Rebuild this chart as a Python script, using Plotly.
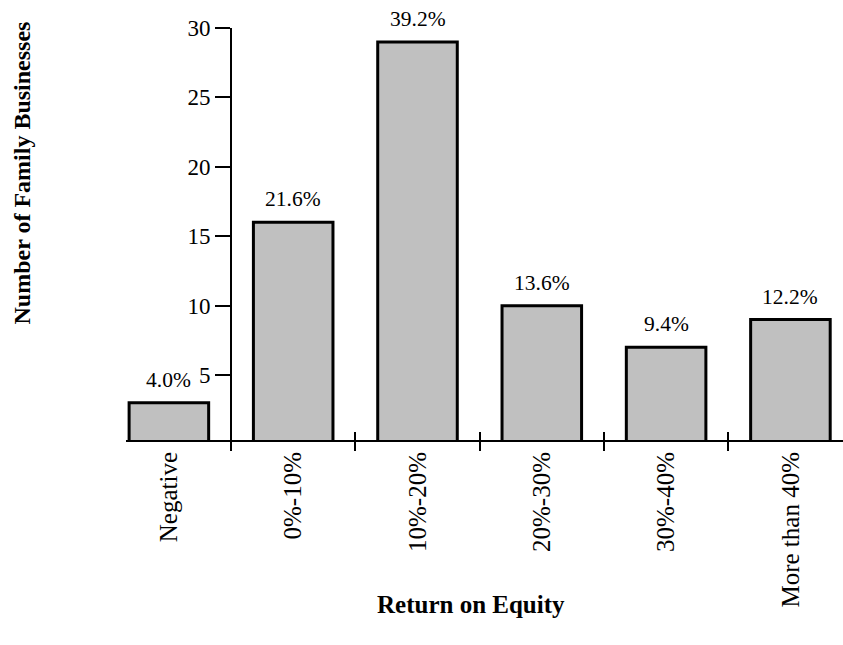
import plotly.graph_objects as go

# Return-on-equity bands and the number of family businesses in each
categories = ["Negative", "0%-10%", "10%-20%", "20%-30%", "30%-40%", "More than 40%"]
counts = [3, 16, 29, 10, 7, 9]
shares = [4.0, 21.6, 39.2, 13.6, 9.4, 12.2]
y_ticks = [5, 10, 15, 20, 25, 30]

serif = "Liberation Serif, Times New Roman, serif"
x_range = [-0.345, 5.423]
y_axis_pos = (0.5 - x_range[0]) / (x_range[1] - x_range[0])

fig = go.Figure()
fig.add_trace(go.Bar(
    x=categories,
    y=counts,
    width=0.64,
    marker=dict(color="#c0c0c0", line=dict(color="black", width=3)),
    showlegend=False,
    hoverinfo="skip",
))
# empty trace that keeps the secondary (tick-only) x axis alive
fig.add_trace(go.Scatter(x=[], y=[], xaxis="x2", yaxis="y",
                         showlegend=False, hoverinfo="skip"))

# percentage share printed above each bar
share_labels = [
    dict(
        x=cat, y=n, xref="x", yref="y",
        text=f"{s:.1f}%",
        xanchor="center", yanchor="bottom",
        yshift=9,
        showarrow=False,
        font=dict(family=serif, size=21.5, color="black"),
    )
    for cat, n, s in zip(categories, counts, shares)
]

fig.update_layout(
    width=843,
    height=645,
    margin=dict(l=126, r=0, t=28, b=205),
    paper_bgcolor="white",
    plot_bgcolor="white",
    font=dict(family=serif, color="black"),
    xaxis=dict(
        type="category",
        range=x_range,
        showline=True,
        linecolor="black",
        linewidth=2,
        ticks="outside",
        tickson="boundaries",
        ticklen=9,
        tickwidth=2,
        tickcolor="black",
        tickangle=-90,
        tickfont=dict(family=serif, size=25, color="black"),
        showgrid=False,
        zeroline=False,
    ),
    xaxis2=dict(
        type="category",
        overlaying="x",
        anchor="y",
        range=x_range,
        categoryarray=categories,
        categoryorder="array",
        ticks="inside",
        tickson="boundaries",
        ticklen=8,
        tickwidth=2,
        tickcolor="black",
        showticklabels=False,
        showline=False,
        showgrid=False,
        zeroline=False,
    ),
    yaxis=dict(
        range=[0.32, 30],
        anchor="free",
        position=y_axis_pos,
        tickvals=y_ticks,
        showline=True,
        linecolor="black",
        linewidth=2,
        ticks="outside",
        ticklen=15,
        tickwidth=2,
        tickcolor="black",
        tickfont=dict(family=serif, size=23, color="black"),
        showgrid=False,
        zeroline=False,
    ),
    annotations=share_labels + [
        dict(
            text="<b>Number of Family Businesses</b>",
            xref="paper", yref="paper",
            x=-0.145, y=0.647,
            xanchor="center", yanchor="middle",
            textangle=-90,
            showarrow=False,
            font=dict(family=serif, size=24, color="black"),
        ),
        dict(
            text="<b>Return on Equity</b>",
            xref="paper", yref="paper",
            x=0.481, y=-0.40,
            xanchor="center", yanchor="middle",
            showarrow=False,
            font=dict(family=serif, size=25, color="black"),
        ),
    ],
)

fig.write_html("out.html")
